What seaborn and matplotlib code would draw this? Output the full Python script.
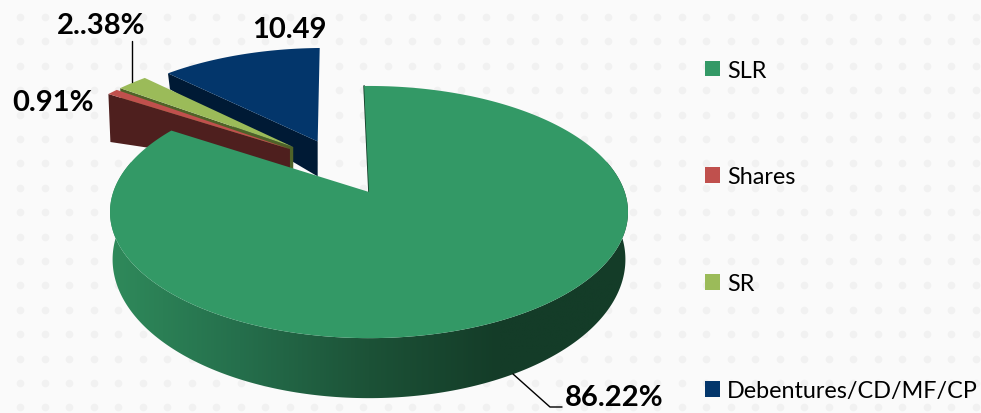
import numpy as np
import seaborn as sns
import matplotlib.pyplot as plt
from matplotlib.patches import Patch, Polygon

# pie values, in drawing order (clockwise from 12 o'clock)
categories = ["SLR", "Shares", "SR", "Debentures/CD/MF/CP"]
shares = [86.22, 0.91, 2.38, 10.49]
value_labels = ["86.22%", "0.91%", "2..38%", "10.49"]

top_colors = ["#339966", "#C0504D", "#9BBB59", "#03366B"]
wall_colors = ["#143C28", "#4E1F1E", "#4F6228", "#001A35"]
side_colors = ["#2F8A5B", "#256F4C", "#1C5237", "#143C28", "#143C28"]

# exploded slices: distance, direction (deg from top) and wall depth at rim / at tip
explode = [0, 0.494, 0.5, 0.49]
explode_dir = [0, -41.5, -39, -26]
wall_far = [0, 48, 48, 16]
wall_near = [0, 20, 22, 35]

# projection of the 3d pie, in pixels
CX, CY = 369, 193
A, B, K = 122.9, 255.7, 0.159
STRETCH = 1.27
START = -1.0


def project(x, y):
    d = 1 + K * y
    return CX + B * x / d, CY - A * y / d


def warp(angle):
    rad = np.radians(angle)
    return np.degrees(np.unwrap(np.arctan2(STRETCH * np.sin(rad), np.cos(rad))))


def depth(py):
    return 60 - 0.1 * (339 - py)


sns.set_theme(style="white")
plt.rcParams["font.family"] = ["Lato", "DejaVu Sans"]

fig = plt.figure(figsize=(9.81, 4.14), dpi=100, facecolor="#FAFAFA")
ax = fig.add_axes([0, 0, 1, 1])
ax.set_facecolor("#FAFAFA")

# faint dotted backdrop
gx, gy = np.meshgrid(np.arange(20, 981, 24.5), np.arange(18, 414, 24.4))
sns.scatterplot(x=gx.ravel(), y=gy.ravel(), s=30, color="#F1F1F1", linewidth=0, ax=ax, zorder=1)

edges = START + np.concatenate([[0], np.cumsum(shares)]) / np.sum(shares) * 360

# the small exploded slices, back to front
for i in [3, 2, 1]:
    th = np.radians(warp(np.linspace(edges[i], edges[i + 1], 40)))
    off = np.radians(explode_dir[i])
    ox, oy = explode[i] * np.sin(off), explode[i] * np.cos(off)
    rx, ry = project(ox + np.sin(th), oy + np.cos(th))
    tx, ty = project(ox, oy)
    wall = [(rx[0], ry[0]), (tx, ty), (tx, ty + wall_near[i]), (rx[0] + 2, ry[0] + wall_far[i])]
    ax.add_patch(Polygon(wall, closed=True, fc=wall_colors[i], ec="none", zorder=2 + (3 - i)))
    face = np.column_stack([np.r_[tx, rx], np.r_[ty, ry]])
    ax.add_patch(Polygon(face, closed=True, fc=top_colors[i], ec="none", zorder=2.5 + (3 - i)))

# big slice: side wall with a horizontal gradient
th = np.radians(warp(np.linspace(edges[0], edges[1], 400)))
rx, ry = project(np.sin(th), np.cos(th))
low = (np.degrees(th) > 75) & (np.degrees(th) < 285)
bx = CX + (rx[low] - CX) * 0.99
by = ry[low] + depth(ry[low])
side = Polygon(np.column_stack([np.r_[rx[low], bx[::-1]], np.r_[ry[low], by[::-1]]]),
               closed=True, fc="none", ec="none", transform=ax.transData)
ax.add_patch(side)
side_cmap = sns.blend_palette(side_colors, as_cmap=True)
img = ax.imshow(np.linspace(0, 1, 256)[None, :], cmap=side_cmap, aspect="auto", zorder=6,
                extent=(rx.min(), rx.max(), by.max() + 2, ry[low].min()))
img.set_clip_path(side)

ax.plot([rx[0], CX], [ry[0], CY], color=wall_colors[0], lw=1.2, zorder=6)
face = np.column_stack([np.r_[CX, rx], np.r_[CY, ry]])
ax.add_patch(Polygon(face, closed=True, fc=top_colors[0], ec="none", zorder=7))

# value labels and leader lines
label_style = dict(fontsize=21, fontweight="bold", color="black", va="center", ha="center", zorder=9)
ax.text(614, 398, value_labels[0], **label_style)
ax.text(53, 103, value_labels[1], **label_style)
ax.text(101, 26, value_labels[2], **label_style)
ax.text(289, 30, value_labels[3], **label_style)
ax.plot([132, 132], [42, 83], color="black", lw=1, zorder=9)
ax.plot([513, 550, 562], [375, 408, 408], color="black", lw=1, zorder=9)

handles = [Patch(fc=c, ec="none", label=n) for c, n in zip(top_colors, categories)]
ax.legend(handles=handles, loc="upper left", bbox_to_anchor=(705, 60.5), bbox_transform=ax.transData,
          frameon=False, fontsize=16.8, labelcolor="black", handlelength=0.64, handleheight=0.64,
          handletextpad=0.3, labelspacing=3.68, borderpad=0, borderaxespad=0)

ax.set_xlim(0, 981)
ax.set_ylim(414, 0)
ax.axis("off")

fig.savefig("out.png", dpi=100, facecolor=fig.get_facecolor())
